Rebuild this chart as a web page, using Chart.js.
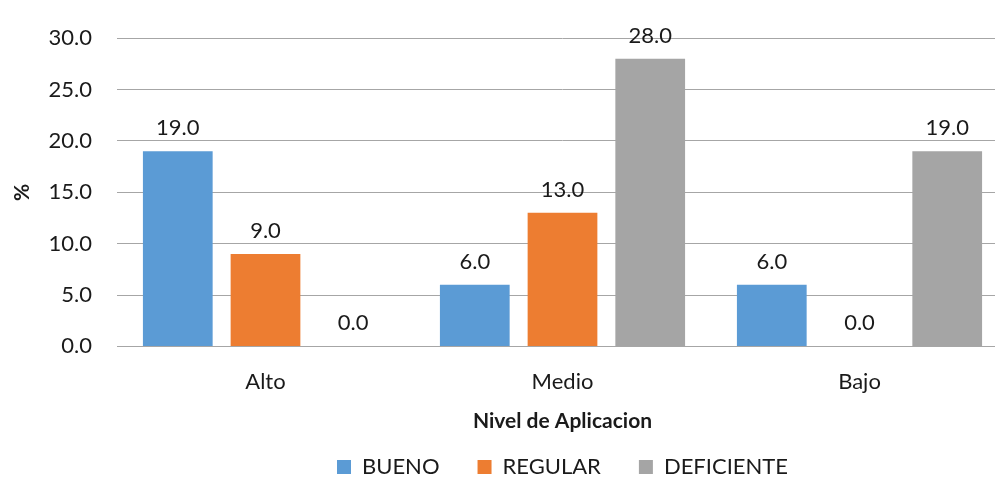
<!DOCTYPE html>
<html>
<head>
<meta charset="utf-8">
<script src="https://cdn.jsdelivr.net/npm/chart.js@4"></script>
<style>
  html, body { margin: 0; padding: 0; background: #fff; overflow: hidden; }
  /* el original esta recortado a la derecha: el lienzo es algo mas ancho que la ventana */
  #wrap { width: 995px; height: 478px; overflow: hidden; }
</style>
</head>
<body>
<div id="wrap"><canvas id="chart" width="1008" height="478"></canvas></div>
<script>
const categories = ['Alto', 'Medio', 'Bajo'];
const bueno = [19.0, 6.0, 6.0];
const regular = [9.0, 13.0, 0.0];
const deficiente = [0.0, 28.0, 19.0];
const yTicks = [0, 5, 10, 15, 20, 25, 30];

const FONT = 'Lato, "Open Sans", sans-serif';
const TEXT = '#1a1a1a';

// etiquetas de valor encima de cada barra
const valueLabels = {
    id: 'valueLabels',
    afterDatasetsDraw(chart) {
        const ctx = chart.ctx;
        ctx.save();
        ctx.font = '22px ' + FONT;
        ctx.fillStyle = TEXT;
        ctx.textAlign = 'center';
        ctx.textBaseline = 'alphabetic';
        chart.data.datasets.forEach((ds, i) => {
            chart.getDatasetMeta(i).data.forEach((bar, j) => {
                ctx.fillText(ds.data[j].toFixed(1), bar.x, bar.y - 16);
            });
        });
        ctx.restore();
    }
};

new Chart(document.getElementById('chart'), {
    type: 'bar',
    data: {
        labels: categories,
        datasets: [
            { label: 'BUENO', data: bueno, backgroundColor: '#5B9BD5' },
            { label: 'REGULAR', data: regular, backgroundColor: '#ED7D31' },
            { label: 'DEFICIENTE', data: deficiente, backgroundColor: '#A5A5A5' }
        ]
    },
    options: {
        responsive: false,
        animation: false,
        layout: { autoPadding: false, padding: { top: 32, right: 0, left: 10, bottom: 0 } },
        categoryPercentage: 0.886,
        barPercentage: 0.795,
        plugins: {
            legend: {
                position: 'bottom',
                fullSize: false,
                maxHeight: 60,
                labels: {
                    font: { family: FONT, size: 22 },
                    color: TEXT,
                    boxWidth: 14,
                    boxHeight: 14,
                    padding: 38
                }
            },
            tooltip: { enabled: false }
        },
        scales: {
            x: {
                afterFit: s => { s.paddingLeft = 0; s.paddingRight = 0; },
                grid: { display: false },
                border: { color: '#A6A6A6' },
                ticks: { font: { family: FONT, size: 22 }, color: TEXT, padding: 14 },
                title: {
                    display: true,
                    text: 'Nivel de Aplicacion',
                    font: { family: FONT, size: 21, weight: 'bold' },
                    color: TEXT,
                    padding: { top: 0, bottom: -16 }
                }
            },
            y: {
                min: 0,
                max: 30,
                afterBuildTicks: s => { s.ticks = yTicks.map(v => ({ value: v })); },
                afterFit: s => { s.width = 107; },
                grid: { color: '#A6A6A6', drawTicks: false },
                border: { display: false },
                ticks: {
                    font: { family: FONT, size: 22 },
                    color: TEXT,
                    padding: 25,
                    callback: v => v.toFixed(1)
                },
                title: {
                    display: true,
                    text: '%',
                    font: { family: FONT, size: 21, weight: 'bold' },
                    color: TEXT,
                    padding: 0
                }
            }
        }
    },
    plugins: [valueLabels]
});
</script>
</body>
</html>
